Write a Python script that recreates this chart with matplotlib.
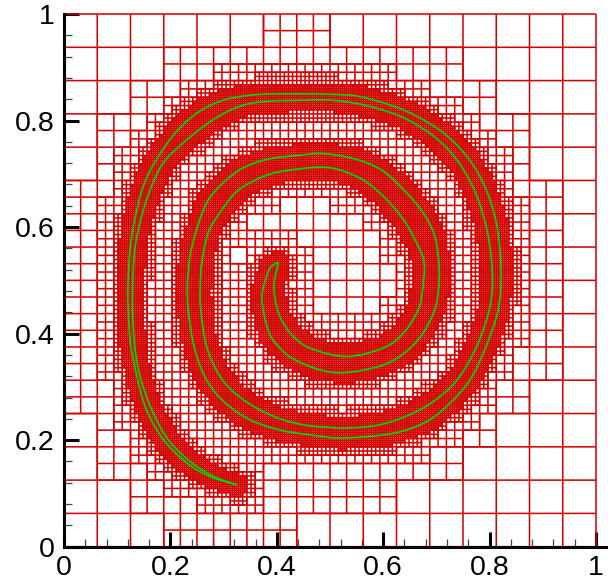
import numpy as np
import matplotlib
matplotlib.use("Agg")
import matplotlib.pyplot as plt
from matplotlib.collections import LineCollection
from matplotlib.path import Path
from matplotlib.patches import PathPatch

plt.rcParams['font.family'] = ['Liberation Sans', 'DejaVu Sans']

outer_x = [.400,.387,.377,.372,.377,.387,.403,.428,.481,.531,.600,.644,.675,.697,.704,.705,.697,.675,.644,.600,.550,.487,.444,.381,.331,.293,.268,.249,.237,.232,.234,.246,.268,.303,.350,.406,.462,.524,.619,.682,.726,.763,.791,.813,.821,.820,.810,.788,.757,.713,.663,.619,.556,.506,.444,.368,.306,.256,.212,.174,.149,.133,.124,.120,.121,.125,.137,.155,.187,.231,.274,.325]
outer_y = [.533,.523,.495,.467,.432,.398,.376,.354,.332,.327,.341,.367,.401,.445,.483,.526,.583,.627,.664,.705,.727,.738,.735,.727,.708,.677,.645,.595,.545,.492,.439,.370,.313,.270,.238,.219,.210,.204,.213,.235,.270,.313,.370,.432,.483,.551,.620,.683,.733,.777,.808,.827,.845,.849,.850,.849,.840,.818,.780,.727,.677,.614,.558,.483,.439,.382,.320,.257,.201,.157,.132,.116]
inner_x = [.400,.402,.395,.397,.406,.428,.462,.531,.600,.638,.666,.674,.677,.663,.638,.600,.556,.494,.412,.368,.325,.293,.271,.259,.256,.257,.268,.293,.325,.368,.412,.462,.531,.594,.657,.707,.744,.776,.798,.805,.804,.795,.776,.751,.719,.682,.632,.569,.506,.444,.381,.331,.281,.231,.187,.162,.146,.133,.129,.129,.133,.143,.165,.196,.237,.281,.325]
inner_y = [.533,.530,.495,.464,.432,.398,.373,.357,.373,.401,.445,.483,.533,.570,.614,.658,.692,.712,.705,.692,.667,.627,.589,.533,.483,.445,.376,.320,.285,.257,.238,.227,.223,.229,.251,.282,.320,.376,.439,.483,.533,.595,.658,.708,.749,.780,.808,.828,.838,.838,.836,.827,.802,.764,.721,.670,.620,.558,.483,.439,.376,.320,.257,.201,.160,.132,.116]
x_ticks = [0, 0.2, 0.4, 0.6, 0.8, 1]
tick_labels = ['0', '0.2', '0.4', '0.6', '0.8', '1']

BASE, MAXL = 4, 8
REFINE = {4: .12, 5: .062, 6: .034, 7: .021}
CORE = (.45, .65)  # coarse cells inside the innermost turn are split once too

def segs(xs, ys):
    p = np.column_stack([xs, ys])
    return p[:-1], p[1:]
a1, b1 = segs(outer_x, outer_y)
a2, b2 = segs(inner_x, inner_y)
A = np.vstack([a1, a2]); B = np.vstack([b1, b2]); D = B - A
L2 = (D**2).sum(1)

def dist(cx, cy):
    P = np.array([cx, cy])
    t = np.clip(((P - A) * D).sum(1) / L2, 0, 1)
    Q = A + t[:, None] * D
    return np.sqrt(((P - Q)**2).sum(1)).min()

edges = set()
N = 2**MAXL
def visit(i, j, lev):
    s = 2**(MAXL - lev)
    h = s / N
    cx, cy = (i + .5) * h, (j + .5) * h
    split = lev < MAXL and dist(cx, cy) < REFINE[lev]
    if lev == BASE and CORE[0] < cx < CORE[1] and CORE[0] < cy < CORE[1]:
        split = True
    if split:
        for di in (0, 1):
            for dj in (0, 1):
                visit(2*i + di, 2*j + dj, lev + 1)
        return
    x0, y0 = i*s, j*s
    edges.add((x0, y0, x0+s, y0)); edges.add((x0, y0+s, x0+s, y0+s))
    edges.add((x0, y0, x0, y0+s)); edges.add((x0+s, y0, x0+s, y0+s))

for i in range(2**BASE):
    for j in range(2**BASE):
        visit(i, j, BASE)
E = np.array(sorted(edges), float) / N
mesh = E.reshape(-1, 2, 2)

def smooth_path(xs, ys):
    p = np.column_stack([xs, ys])
    t = np.gradient(p, axis=0)
    verts = [p[0]]; codes = [Path.MOVETO]
    for k in range(len(p) - 1):
        verts += [p[k] + t[k] / 3, p[k+1] - t[k+1] / 3, p[k+1]]
        codes += [Path.CURVE4] * 3
    return Path(verts, codes)

fig = plt.figure(figsize=(6.08, 5.83), dpi=100)
ax = fig.add_axes([64/608, (583-546.7)/583, (608-64)/608, 532.7/583])
ax.set_xlim(0, 544/532); ax.set_ylim(0, 1)
lc = LineCollection(mesh, colors='#d40000', linewidths=1.12, zorder=2, clip_on=False)
lc.set_snap(False)
ax.add_collection(lc)
for xs, ys in ((outer_x, outer_y), (inner_x, inner_y)):
    ax.add_patch(PathPatch(smooth_path(xs, ys), fill=False, edgecolor='#00d800', lw=1.25, zorder=3, clip_on=False))

for s in ('top', 'right'):
    ax.spines[s].set_visible(False)
for s in ('left', 'bottom'):
    ax.spines[s].set_linewidth(2.2); ax.spines[s].set_zorder(5)
ax.set_xticks(x_ticks, tick_labels); ax.set_yticks(x_ticks, tick_labels)
minor = [v/25 for v in range(26) if v % 5]
ax.set_xticks(minor, minor=True); ax.set_yticks(minor, minor=True)
ax.tick_params(which='major', direction='in', length=10.5, width=2.2, labelsize=20.5, pad=6, color='black', zorder=5)
ax.tick_params(axis='y', which='major', pad=7)
ax.tick_params(which='minor', direction='in', length=6, width=0.9, color='#444444', zorder=5)
fig.savefig('out.png', dpi=100)
